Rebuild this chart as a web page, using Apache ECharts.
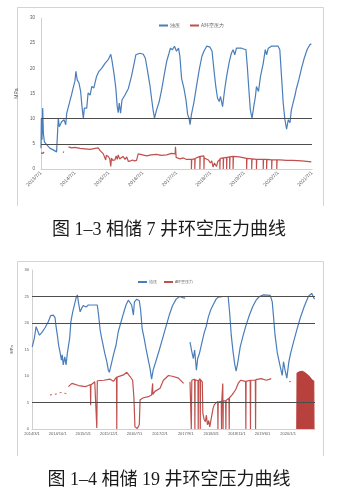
<!DOCTYPE html>
<html><head><meta charset="utf-8">
<script src="https://cdn.jsdelivr.net/npm/echarts@6/dist/echarts.min.js"></script>
<style>html,body{margin:0;padding:0;background:#fff}#c{width:337px;height:498px}</style>
</head><body><div id="c"></div>
<script>
// ---------- Chart 1 (相储 7) ----------
const dates1 = ['2013/7/1','2014/7/1','2015/7/1','2016/7/1','2017/7/1','2018/7/1','2019/7/1','2020/7/1','2021/7/1'];
const yTicks = [0,5,10,15,20,25,30];
const refLines1 = [10,5];
const blue1 = [[0,4.1],[0.01,10.1],[0.03,5.8],[0.05,12.1],[0.07,7.1],[0.1,5.4],[0.17,4.8],[0.27,4.1],[0.36,3.8],[0.46,3.4],[0.49,3.1],[0.51,10.1],[0.54,8.4],[0.61,9.4],[0.68,9.8],[0.73,8.8],[0.76,11.1],[0.81,12.4],[0.86,13.7],[0.9,14.7],[0.95,16.1],[1.0,17.4],[1.03,19.4],[1.07,17.7],[1.12,17.1],[1.17,15.4],[1.21,12.4],[1.25,10.1],[1.28,12.1],[1.35,12.1],[1.39,15.1],[1.45,14.7],[1.5,16.4],[1.56,16.1],[1.64,18.4],[1.71,19.4],[1.79,20],[1.89,21],[1.99,21.8],[2.06,22.8],[2.1,21.4],[2.16,18.7],[2.21,16],[2.25,12.4],[2.28,11.2],[2.31,13.1],[2.35,11.1],[2.39,13.7],[2.48,14.7],[2.58,16],[2.67,18.4],[2.75,21],[2.8,22.7],[2.84,23],[2.92,23],[3.02,22.8],[3.08,22],[3.14,19.7],[3.22,16.4],[3.27,13.7],[3.31,11.7],[3.35,10.1],[3.41,11.7],[3.49,13.4],[3.56,15.7],[3.63,18.4],[3.71,21.4],[3.78,23],[3.82,24],[3.88,23.7],[3.94,24.4],[4.0,23.4],[4.06,24],[4.1,22.4],[4.15,18],[4.22,16],[4.28,13.7],[4.33,10.8],[4.37,10.1],[4.4,8.8],[4.44,10.8],[4.51,13.1],[4.59,16.4],[4.67,19.7],[4.75,22.4],[4.81,23.4],[4.89,24.4],[4.99,24.2],[5.05,23.4],[5.11,19.4],[5.16,16.4],[5.21,14.1],[5.26,13.4],[5.3,14.4],[5.36,12.4],[5.42,15.7],[5.48,18.4],[5.56,21.4],[5.62,23],[5.67,23.7],[5.72,22.7],[5.77,24],[5.92,24],[6.05,23.7],[6.09,20.4],[6.13,16.4],[6.18,11.7],[6.23,10.1],[6.28,12.4],[6.33,14.4],[6.36,16.4],[6.42,15.4],[6.48,18.4],[6.56,21],[6.62,23.7],[6.66,22.7],[6.71,24],[6.8,24.4],[7.0,24.4],[7.05,23.7],[7.1,18.4],[7.15,13.1],[7.2,9.8],[7.25,7.9],[7.3,9.8],[7.35,9.2],[7.39,11.7],[7.44,13.1],[7.5,14.7],[7.54,16],[7.61,17.7],[7.69,20],[7.77,22],[7.86,23.8],[7.94,24.7],[7.98,24.9]];
const red1a = [[0,3.2],[0.03,3.5],[0.06,3.1],[0.09,3.4]];
const red1b = [[0.65,3.4],[0.68,3.3]];
const red1 = [[0.81,4.4],[0.9,4.2],[1.0,4.3],[1.15,4.1],[1.3,4.0],[1.45,3.9],[1.6,4.1],[1.69,4.2],[1.74,3.7],[1.79,3.4],[1.84,3.0],[1.87,3.2],[1.89,2.8],[1.91,1.8],[1.93,2.7],[1.99,2.5],[2.03,2.0],[2.06,0.5],[2.08,2.2],[2.12,1.7],[2.18,1.8],[2.22,2.6],[2.25,1.9],[2.28,2.8],[2.32,2.0],[2.36,2.3],[2.42,2.5],[2.48,1.9],[2.53,2.4],[2.58,1.5],[2.64,1.6],[2.7,1.8],[2.76,1.6],[2.82,1.7],[2.85,2.5],[2.87,3.0],[3.0,2.8],[3.12,2.6],[3.25,2.8],[3.41,2.9],[3.55,2.7],[3.71,2.8],[3.85,3.1],[3.9,3.1],[3.96,3.0],[3.97,4.4],[3.99,2.3],[4.0,2.1],[4.1,2.0],[4.2,2.2],[4.3,1.9],[4.44,1.9],[4.44,0],[4.45,1.9],[4.54,2.0],[4.54,0],[4.55,2.1],[4.6,2.4],[4.69,2.5],[4.69,0],[4.7,2.5],[4.75,2.8],[4.81,2.6],[4.81,0],[4.82,2.2],[4.94,1.8],[5.0,1.2],[5.04,1.6],[5.08,0.4],[5.12,1.2],[5.18,0.5],[5.22,1.5],[5.28,1.9],[5.28,0],[5.29,2.1],[5.38,2.2],[5.38,0],[5.39,2.2],[5.48,2.3],[5.48,0],[5.49,2.3],[5.57,2.4],[5.57,0],[5.58,2.4],[5.67,2.5],[5.67,0],[5.68,2.5],[5.85,2.4],[6.07,2.1],[6.07,0],[6.08,2.1],[6.22,2.0],[6.22,0],[6.23,2.0],[6.36,1.9],[6.36,0],[6.37,1.9],[6.46,1.9],[6.56,1.9],[6.56,0],[6.57,1.9],[6.66,1.9],[6.66,0],[6.67,1.9],[6.81,1.8],[6.81,0],[6.82,1.8],[6.96,1.8],[6.96,0],[6.97,1.8],[7.05,1.8],[7.25,1.7],[7.44,1.7],[7.7,1.6],[7.98,1.4]];

// ---------- Chart 2 (相储 19) ----------
const dates2 = ['2014/3/1','2014/10/1','2015/5/1','2015/12/1','2016/7/1','2017/2/1','2017/9/1','2018/4/1','2018/11/1','2019/6/1','2020/1/1'];
const refLines2 = [25,20,5];
const blue2a = [[0.01,15.5],[0.09,17.1],[0.16,19.3],[0.22,19.6],[0.29,17.7],[0.38,18.2],[0.51,19.1],[0.64,20.3],[0.73,21.4],[0.83,21.5],[0.9,21],[0.94,19.3],[0.99,17.7],[1.04,15.8],[1.09,14.6],[1.15,13],[1.18,14],[1.22,12.1],[1.28,13.6],[1.33,12.1],[1.38,14.3],[1.43,14.5],[1.47,17.1],[1.52,20.3],[1.59,22.1],[1.67,23.7],[1.72,24.7],[1.77,25.3],[1.82,23.7],[1.88,22.1],[1.94,22.8],[2.0,23.3],[2.11,23],[2.2,23.4],[2.4,23.4],[2.55,23.4],[2.6,21.5],[2.66,18.7],[2.71,17.4],[2.76,16.2],[2.84,14.3],[2.92,12.7],[2.98,11.1],[3.02,10.7],[3.09,12.1],[3.18,14],[3.28,15.8],[3.37,18.4],[3.46,19.9],[3.57,21.8],[3.67,23.4],[3.76,24.3],[3.83,24.5],[3.89,23.4],[3.96,21.5],[4.0,24],[4.09,24.5],[4.19,24.2],[4.24,22.5],[4.3,19],[4.38,17.1],[4.45,15.2],[4.53,13.3],[4.61,11.4],[4.67,9.4],[4.73,11.1],[4.79,11.4],[4.87,13.3],[4.97,14.9],[5.1,17.1],[5.23,19.3],[5.36,21.5],[5.49,23.3],[5.63,24.5],[5.76,25],[5.89,24.8],[5.98,24.7]];
const blue2b = [[6.17,16.4],[6.24,14.6],[6.3,13.3],[6.35,14.9],[6.42,11.1],[6.47,13.3],[6.54,14.3],[6.63,16.2],[6.72,18.1],[6.8,19.3],[6.89,21.2],[6.98,22.5],[7.08,23.5],[7.19,24.5],[7.28,24.9],[7.47,25],[7.66,25],[7.72,21.8],[7.78,17.7],[7.85,14.6],[7.92,12.1],[7.97,10.9],[8.03,12.4],[8.13,15.5],[8.23,17.4],[8.36,19.6],[8.49,21.5],[8.62,23.1],[8.75,24.3],[8.88,25],[9.04,25.3],[9.3,25.2],[9.38,24],[9.43,21.2],[9.49,17.7],[9.58,14.3],[9.69,11.8],[9.77,10.1],[9.82,12.7],[9.88,11.1],[9.95,9.6],[10.03,12.7],[10.1,14.3],[10.21,16.4],[10.34,18.7],[10.47,20.9],[10.63,23.1],[10.79,25],[10.92,25.6],[10.99,25.4],[11.03,24.5]];
const red2dots = [[0.7,6.4],[0.78,6.5],[0.95,6.6],[1.02,6.7],[1.12,6.9],[1.18,6.8],[1.32,6.7],[1.37,6.6]];
const red2a = [[1.42,8.0],[1.56,8.6],[1.82,8.2],[2.08,8.0],[2.2,8.2],[2.28,8.4],[2.29,4.5],[2.3,8.3],[2.45,8.9],[2.52,9.2],[2.53,0.2],[2.55,9.1],[2.8,9.2],[3.05,9.4],[3.18,9.0],[3.3,9.8],[3.31,0],[3.32,9.8],[3.57,10.2],[3.7,10.7],[3.83,9.9],[3.93,9.2],[3.98,5.8],[4.02,0.4],[4.11,0.1],[4.19,0.8],[4.22,5.5],[4.35,5.9],[4.54,6.1],[4.67,6.4],[4.71,8.6],[4.72,6.5],[4.8,7.1],[5.0,7.7],[5.13,9.2],[5.33,10.1],[5.52,9.9],[5.72,9.6],[5.92,8.6]];
const red2b = [[6.17,8.9],[6.22,0],[6.24,9.2],[6.35,9.4],[6.36,0],[6.37,9.3],[6.48,9.1],[6.49,0],[6.5,9.1],[6.56,9.5],[6.57,0],[6.58,9.3],[6.65,8.9],[6.67,3.0],[6.72,1.8],[6.77,1.4],[6.81,2.6],[6.85,0.8],[6.9,1.6],[6.94,0.4],[7.0,0.2],[7.07,3.9],[7.12,4.6],[7.18,4.4],[7.25,5.2],[7.26,0],[7.27,5.1],[7.39,5.2],[7.4,0],[7.41,5.3],[7.44,5.3],[7.45,8.6],[7.46,0],[7.47,5.3],[7.56,5.3],[7.57,0],[7.58,5.4],[7.69,5.8],[7.7,0],[7.71,5.9],[7.82,6.5],[7.95,7.4],[8.05,8.6],[8.15,9.2],[8.34,9.0],[8.35,0],[8.36,9.0],[8.52,9.2],[8.53,0],[8.54,9.2],[8.72,9.2],[8.73,0],[8.74,9.3],[8.95,9.5],[9.15,9.2],[9.34,9.5]];
const red2c = [[10.05,9.0],[10.1,8.9]];
const red2block = [[10.34,0],[10.35,10.5],[10.45,10.8],[10.55,10.9],[10.65,10.6],[10.8,10.0],[10.92,9.3],[11.0,9.0],[11.01,0]];

const BLUE = '#4a7ebb', RED = '#c0504d';
const S1 = '油压', S2 = 'A环空压力';

function line(name, data, color, xi, extra) {
  return Object.assign({
    type: 'line', name, data, xAxisIndex: xi, yAxisIndex: xi,
    showSymbol: false, symbol: 'none', lineStyle: { color, width: 1.2 }, itemStyle: { color },
    silent: true, animation: false
  }, extra || {});
}
function refs(arr) {
  return { silent: true, symbol: 'none', label: { show: false },
    lineStyle: { color: '#4d4d4d', width: 1, type: 'solid' },
    data: arr.map(v => ({ yAxis: v })) };
}
const axisLbl = { color: '#595959', fontSize: 4.5, fontFamily: 'Liberation Sans' };
const option = {
  backgroundColor: '#fff',
  animation: false,
  legend: [
    { left: 154, top: 18, itemWidth: 9, itemHeight: 2, itemGap: 10, icon: 'rect',
      textStyle: { fontSize: 4.5, color: '#595959', padding: [0,0,0,-3] }, data: [S1, S2] },
    { left: 133, top: 275, itemWidth: 9, itemHeight: 2, itemGap: 7, icon: 'rect',
      textStyle: { fontSize: 3.5, color: '#595959', padding: [0,0,0,-3] }, data: [S1, S2] }
  ],
  grid: [
    { left: 41, right: 25, top: 18, height: 151 },
    { left: 32, right: 22, top: 270, height: 159 }
  ],
  xAxis: [
    { type: 'value', gridIndex: 0, min: 0, max: 8, interval: 1,
      axisLine: { lineStyle: { color: '#d0d0d0' } }, axisTick: { show: false }, splitLine: { show: false },
      axisLabel: Object.assign({}, axisLbl, { rotate: 45, margin: 3, fontSize: 5,
        formatter: v => dates1[Math.round(v)] || '' }) },
    { type: 'value', gridIndex: 1, min: 0, max: 11.05, interval: 1,
      axisLine: { lineStyle: { color: '#d0d0d0' } }, axisTick: { show: false }, splitLine: { show: false },
      axisLabel: Object.assign({}, axisLbl, { margin: 3, fontSize: 4, showMaxLabel: false,
        formatter: v => dates2[Math.round(v)] || '' }) }
  ],
  yAxis: [
    { type: 'value', gridIndex: 0, min: 0, max: 30, interval: 5,
      name: 'MPa', nameLocation: 'middle', nameGap: 14, nameTextStyle: { fontSize: 5, color: '#595959' },
      axisLine: { show: true, lineStyle: { color: '#d0d0d0' } }, axisTick: { show: false }, splitLine: { show: false },
      axisLabel: Object.assign({}, axisLbl, { margin: 6, formatter: v => yTicks.includes(v) ? String(v) : '' }) },
    { type: 'value', gridIndex: 1, min: 0, max: 30, interval: 5,
      name: 'MPa', nameLocation: 'middle', nameGap: 9, nameTextStyle: { fontSize: 4, color: '#595959' },
      axisLine: { show: true, lineStyle: { color: '#d0d0d0' } }, axisTick: { show: false }, splitLine: { show: false },
      axisLabel: Object.assign({}, axisLbl, { margin: 3, fontSize: 4, formatter: v => yTicks.includes(v) ? String(v) : '' }) }
  ],
  series: [
    line(S1, blue1, BLUE, 0, { markLine: refs(refLines1) }),
    line(S2, red1a, RED, 0),
    line(S2, red1b, RED, 0),
    line(S2, red1, RED, 0),
    line(S1, blue2a, BLUE, 1, { markLine: refs(refLines2) }),
    line(S1, blue2b, BLUE, 1),
    line(S2, red2dots, RED, 1, { lineStyle: { color: RED, width: 1, type: [2, 3] } }),
    line(S2, red2a, RED, 1),
    line(S2, red2b, RED, 1),
    line(S2, red2c, RED, 1),
    line(S2, red2block, '#b8403d', 1, { areaStyle: { color: '#b8403d', opacity: 1 } })
  ],
  graphic: [
    { type: 'polyline', silent: true, shape: { points: [[17.5,206],[17.5,7.5],[323.5,7.5],[323.5,206]] },
      style: { stroke: '#d4d4d4', fill: null, lineWidth: 1 } },
    { type: 'polyline', silent: true, shape: { points: [[17.5,456],[17.5,261.5],[323.5,261.5],[323.5,456]] },
      style: { stroke: '#d4d4d4', fill: null, lineWidth: 1 } },
    { type: 'text', silent: true, x: 169, y: 230,
      style: { text: '图 1–3 相储 7 井环空压力曲线', align: 'center', verticalAlign: 'middle',
        fill: '#1a1a1a', font: '18px "Liberation Serif", "Noto Sans CJK SC", serif' } },
    { type: 'text', silent: true, x: 169, y: 480,
      style: { text: '图 1–4 相储 19 井环空压力曲线', align: 'center', verticalAlign: 'middle',
        fill: '#1a1a1a', font: '18px "Liberation Serif", "Noto Sans CJK SC", serif' } }
  ]
};
const chart = echarts.init(document.getElementById('c'), null, { renderer: 'canvas' });
chart.setOption(option);
</script>
</body></html>
